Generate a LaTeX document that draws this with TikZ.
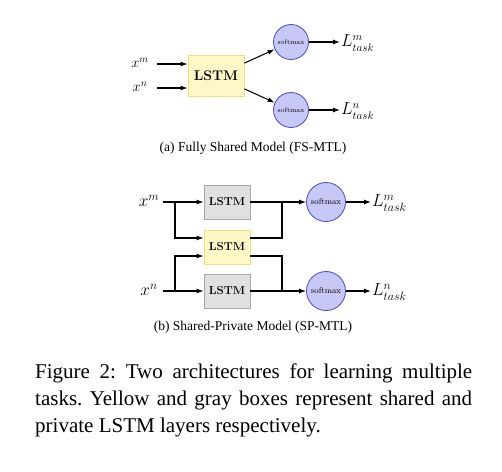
\documentclass[tikz,border=0pt]{standalone}
\usepackage{fontspec}
\newfontfamily\capfont{Liberation Serif}
\usetikzlibrary{arrows.meta,calc}
\definecolor{shfill}{HTML}{FFF7C6}
\definecolor{shdraw}{HTML}{F2E07A}
\definecolor{prfill}{HTML}{E0E0E0}
\definecolor{prdraw}{HTML}{A8A8A8}
\definecolor{smfill}{HTML}{C8C8F6}
\definecolor{smdraw}{HTML}{4848D8}
\tikzset{
  conn/.style={line width=1.05pt,-{Latex[length=7pt,width=5pt]}},
  plain/.style={line width=1.05pt},
  shared/.style={draw=shdraw,fill=shfill,line width=0.8pt,inner sep=0pt},
  private/.style={draw=prdraw,fill=prfill,line width=0.8pt,inner sep=0pt},
  smax/.style={circle,draw=smdraw,fill=smfill,line width=0.8pt,inner sep=0pt},
  lab/.style={inner sep=1pt},
}
\begin{document}
\begin{tikzpicture}[x=1pt,y=-1pt]
\useasboundingbox (0,0) rectangle (502,471);
% ---------- (a) FS-MTL ----------
\node[lab,font=\fontsize{14}{16}\selectfont] (xma) at (140,63) {$x^m$};
\node[lab,font=\fontsize{14}{16}\selectfont] (xna) at (140,87) {$x^n$};
\node[shared,minimum width=56pt,minimum height=41pt,font=\fontsize{14}{16}\selectfont\bfseries] (lstma) at (216,76) {LSTM};
\node[smax,minimum size=35pt,font=\fontsize{6.8}{8}\selectfont] (sma) at (291,42) {softmax};
\node[smax,minimum size=35pt,font=\fontsize{6.8}{8}\selectfont] (sna) at (291,110) {softmax};
\node[lab,anchor=west,font=\fontsize{16}{18}\selectfont] (lma) at (340,43) {$L^m_{task}$};
\node[lab,anchor=west,font=\fontsize{16}{18}\selectfont] (lna) at (340,111) {$L^n_{task}$};
\coordinate (ia) at (157,64);
\coordinate (ib) at (157,88);
\draw[conn] (ia) -- (ia -| lstma.west);
\draw[conn] (ib) -- (ib -| lstma.west);
\draw[conn] ($(lstma.north east)+(0,8)$) -- (sma);
\draw[conn] ($(lstma.south east)+(0,-8)$) -- (sna);
\draw[conn] (sma) -- (sma -| lma.west) ;
\draw[conn] (sna) -- (sna -| lna.west);
\node[font=\capfont\fontsize{13.5}{15}\selectfont] (capa) at (253,148) {(a) Fully Shared Model (FS-MTL)};
% ---------- (b) SP-MTL ----------
\node[lab,font=\fontsize{18}{20}\selectfont] (xmb) at (149,201) {$x^m$};
\node[lab,font=\fontsize{18}{20}\selectfont] (xnb) at (149,290) {$x^n$};
\node[private,minimum width=46pt,minimum height=34pt,font=\fontsize{11.5}{13}\selectfont\bfseries] (g1) at (227,202) {LSTM};
\node[shared,minimum width=46pt,minimum height=34pt,font=\fontsize{11.5}{13}\selectfont\bfseries] (y2) at (227,247) {LSTM};
\node[private,minimum width=46pt,minimum height=34pt,font=\fontsize{11.5}{13}\selectfont\bfseries] (g3) at (227,291) {LSTM};
\node[smax,minimum size=39pt,font=\fontsize{8.5}{10}\selectfont] (smb) at (326,202) {softmax};
\node[smax,minimum size=39pt,font=\fontsize{8.5}{10}\selectfont] (snb) at (326,291) {softmax};
\node[lab,anchor=west,font=\fontsize{17.5}{19}\selectfont] (lmb) at (371,203) {$L^m_{task}$};
\node[lab,anchor=west,font=\fontsize{17.5}{19}\selectfont] (lnb) at (371,292) {$L^n_{task}$};
\coordinate (s1) at (163,202);
\coordinate (s2) at (163,291);
\coordinate (b1) at (175,202);
\coordinate (b2) at (175,291);
\coordinate (m1) at (282,202);
\coordinate (m2) at (282,291);
\draw[conn] (s1) -- (g1);
\draw[conn] (s2) -- (g3);
\draw[conn] (b1) |- ($(y2.west)+(0,-9)$);
\draw[conn] (b2) |- ($(y2.west)+(0,9)$);
\draw[plain] ($(y2.east)+(0,-9)$) -| (m1);
\draw[plain] ($(y2.east)+(0,9)$) -| (m2);
\draw[conn] (g1) -- (smb);
\draw[conn] (g3) -- (snb);
\draw[conn] (smb) -- (smb -| lmb.west);
\draw[conn] (snb) -- (snb -| lnb.west);
\node[font=\capfont\fontsize{13.5}{15}\selectfont] (capb) at (253,327) {(b) Shared-Private Model (SP-MTL)};
% ---------- Figure caption ----------
\node[anchor=north west,inner sep=0pt,text width=437pt,align=justify,font=\capfont\fontsize{21}{27}\selectfont\frenchspacing] (cap) at (35,364)
  {Figure 2: Two architectures for learning multiple\linebreak tasks. Yellow and gray boxes represent shared and\linebreak private LSTM layers respectively.};
\end{tikzpicture}
\end{document}
